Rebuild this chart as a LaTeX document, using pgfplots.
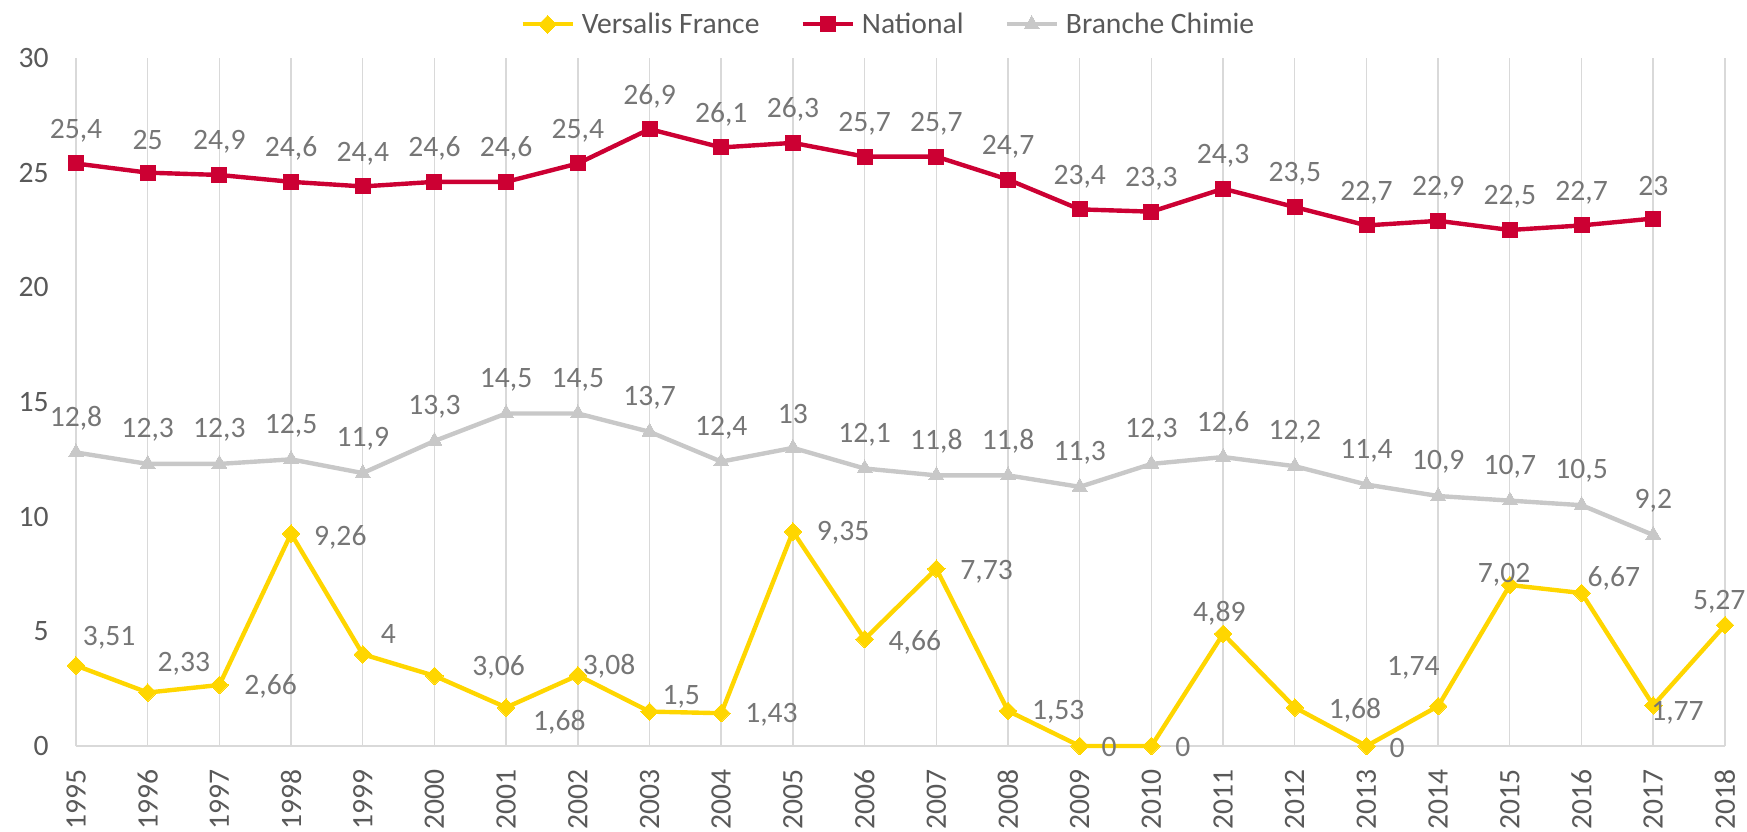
\documentclass[border=0pt]{standalone}
\usepackage{pgfplots}
\usepackage{pgfplotstable}
\pgfplotsset{compat=1.18}
\usepackage{fontspec}
\setmainfont{Carlito}
\definecolor{vers}{RGB}{255,214,0}
\definecolor{natc}{RGB}{204,0,51}
\definecolor{bran}{RGB}{200,200,200}
\definecolor{labc}{RGB}{118,118,118}
\definecolor{tickc}{RGB}{89,89,89}
\definecolor{gridc}{RGB}{217,217,217}

\pgfplotstableread{
x y dx dy
1995 3.51 3.5 14
1996 2.33 5 14.5
1997 2.66 12.5 -0.5
1998 9.26 11.5 -2
1999 4 9 10
2000 3.06 19 4
2001 1.68 13.5 -7.5
2002 3.08 2.5 4.5
2003 1.5 6.5 7.5
2004 1.43 12 -1
2005 9.35 12 -0.5
2006 4.66 12 -1.5
2007 7.73 12 -1.5
2008 1.53 12 -0.5
2009 0 11 -0.5
2010 0 12 -0.5
2011 4.89 -15 10.5
2012 1.68 17 -1.5
2013 0 11.5 -1
2014 1.74 -25.5 19
2015 7.02 -16 5
2016 6.67 3 7.5
2017 1.77 -1 -3.5
2018 5.27 -16 11.5
}\versalis

\pgfplotstableread{
x y
1995 25.4
1996 25
1997 24.9
1998 24.6
1999 24.4
2000 24.6
2001 24.6
2002 25.4
2003 26.9
2004 26.1
2005 26.3
2006 25.7
2007 25.7
2008 24.7
2009 23.4
2010 23.3
2011 24.3
2012 23.5
2013 22.7
2014 22.9
2015 22.5
2016 22.7
2017 23
}\national

\pgfplotstableread{
x y
1995 12.8
1996 12.3
1997 12.3
1998 12.5
1999 11.9
2000 13.3
2001 14.5
2002 14.5
2003 13.7
2004 12.4
2005 13
2006 12.1
2007 11.8
2008 11.8
2009 11.3
2010 12.3
2011 12.6
2012 12.2
2013 11.4
2014 10.9
2015 10.7
2016 10.5
2017 9.2
}\branche

\begin{document}
\begin{tikzpicture}
\begin{axis}[
  at={(0,0)}, anchor=south west,
  scale only axis, width=824.5pt, height=344pt,
  xmin=1995, xmax=2018, ymin=0, ymax=30,
  xtick={1995,...,2018}, ytick={0,5,...,30},
  major tick length=0pt,
  axis x line*=bottom, axis y line*=left,
  y axis line style={draw=none},
  x axis line style={draw=gridc, line width=0.7pt, -},
  xmajorgrids=true,
  major grid style={draw=gridc, line width=0.7pt},
  /pgf/number format/.cd, use comma, 1000 sep={}, fixed, precision=2, assume math mode=true,
  /pgfplots/.cd,
  tick label style={font=\fontsize{14.8}{17}\selectfont, text=tickc},
  x tick label style={rotate=90, anchor=east, inner sep=0pt},
  xticklabel shift=11.5pt,
  y tick label style={anchor=east, inner sep=0pt},
  yticklabel shift=13.5pt,
  clip=false,
  legend columns=3,
  legend style={at={(0.492,1.049)}, anchor=center, draw=none, fill=none,
    inner sep=0pt, font=\fontsize{14.8}{17}\selectfont, text=tickc,
    nodes={inner sep=0pt},
    /tikz/every odd column/.append style={column sep=3.5pt},
    /tikz/every even column/.append style={column sep=20.5pt}},
  legend cell align=left,
  legend image code/.code={\draw[mark repeat=2,mark phase=2] plot coordinates {(0pt,0pt)(12.5pt,0pt)(25pt,0pt)};},
]
\addplot[color=vers, line width=2.2pt, mark=square*, mark size=3.1pt,
  mark options={rotate=45, fill=vers, draw=vers, line width=0pt},
  visualization depends on={\thisrow{dx} \as \mydx},
  visualization depends on={\thisrow{dy} \as \mydy},
  nodes near coords,
  every node near coord/.append style={anchor=west, inner sep=0pt,
    xshift=\mydx pt, yshift=\mydy pt, text=labc,
    font=\fontsize{14.8}{17}\selectfont}]
  table[x=x, y=y] {\versalis};
\addlegendentry{Versalis France}
\addplot[color=natc, line width=2.2pt, mark=square*, mark size=3.75pt,
  mark options={fill=natc, draw=natc, line width=0pt},
  nodes near coords,
  every node near coord/.append style={anchor=center, inner sep=0pt,
    yshift=16.5pt, text=labc, font=\fontsize{14.8}{17}\selectfont}]
  table[x=x, y=y] {\national};
\addlegendentry{National}
\addplot[color=bran, line width=2.2pt, mark=triangle*, mark size=4.3pt,
  mark options={fill=bran, draw=bran, line width=0pt},
  nodes near coords,
  every node near coord/.append style={anchor=center, inner sep=0pt,
    yshift=17pt, text=labc, font=\fontsize{14.8}{17}\selectfont}]
  table[x=x, y=y] {\branche};
\addlegendentry{Branche Chimie}
\end{axis}
\pgfresetboundingbox
\path (-38pt,-42.5pt) rectangle (835.5pt,373pt);
\end{tikzpicture}
\end{document}
